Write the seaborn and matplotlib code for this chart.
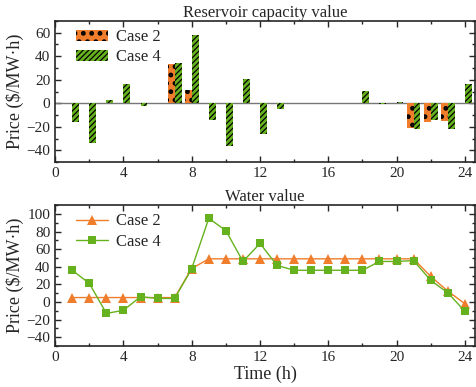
import matplotlib
matplotlib.use("Agg")
import matplotlib.pyplot as plt
import seaborn as sns
import pandas as pd
import numpy as np
from matplotlib.ticker import MultipleLocator

sns.set_style("ticks")
plt.rcParams['font.family'] = ['Liberation Serif', 'DejaVu Serif']
plt.rcParams['hatch.linewidth'] = 0.9

orange = '#f07d2c'
green = '#66b21e'

hours = list(range(1, 25))
# reservoir capacity value
cap_case2 = [0, 0, 0, 0, 0, 0, 33, 11, 0, 0, 0, 0,
             0, 0, 0, 0, 0, 0, 0, 0, -21, -16, -15, 0]
cap_case4 = [-16, -34, 3, 16, -2, 0, 34, 58, -14, -36, 21, -26,
             -5, 0, 0, 0, 0, 10.5, -1, 1.4, -22, -14, -21.5, 16]
# water value
water_case2 = [5, 5, 5, 5, 5, 5, 5, 38, 49, 49, 49, 49,
               49, 49, 49, 49, 49, 49, 49, 49, 49, 29, 12.5, -2]
water_case4 = [36, 21, -13, -9.5, 6, 4, 4, 38, 95, 81, 46, 66.5,
               41.5, 36, 36, 36, 36, 36, 46, 46, 47, 24.5, 10.5, -10.5]

fig = plt.figure(figsize=(4.76, 3.87), dpi=100)
ax1 = fig.add_axes([0.116, 0.581, 0.882, 0.365])
ax2 = fig.add_axes([0.116, 0.106, 0.882, 0.364])

h = np.array(hours)
ax1.axhline(0, color='#777777', lw=1.0, zorder=1)
with plt.rc_context({'hatch.linewidth': 2.2}):
    ax1.bar(h - 0.2, cap_case2, width=0.4, color=orange, edgecolor='black',
            linewidth=0, hatch='..', label='Case 2', zorder=2)
ax1.bar(h + 0.2, cap_case4, width=0.4, color=green, edgecolor='black',
        linewidth=0, hatch='//////', label='Case 4', zorder=2)
ax1.set_ylim(-50, 70)
ax1.set_yticks([-40, -20, 0, 20, 40, 60])
ax1.set_yticklabels(['\u221240', '\u221220', '0', '20', '40', '60'])
ax1.set_title('Reservoir capacity value', fontsize=12, pad=2)

df = pd.DataFrame({'hour': hours, 'Case 2': water_case2, 'Case 4': water_case4})
sns.lineplot(data=df, x='hour', y='Case 2', ax=ax2, color=orange, marker='^',
             markersize=7, markeredgewidth=0, lw=1.0, label='Case 2')
sns.lineplot(data=df, x='hour', y='Case 4', ax=ax2, color=green, marker='s',
             markersize=6, markeredgewidth=0, lw=1.0, label='Case 4')
ax2.set_ylim(-50, 110)
ax2.set_yticks([-40, -20, 0, 20, 40, 60, 80, 100])
ax2.set_yticklabels(['\u221240', '\u221220', '0', '20', '40', '60', '80', '100'])
ax2.set_title('Water value', fontsize=12, pad=2)
ax2.set_xlabel('Time (h)', fontsize=13, labelpad=1)

for ax in (ax1, ax2):
    ax.set_xlim(0, 24.6)
    ax.set_xticks([0, 4, 8, 12, 16, 20, 24])
    ax.xaxis.set_minor_locator(MultipleLocator(2))
    ax.yaxis.set_minor_locator(MultipleLocator(10))
    ax.tick_params(which='both', direction='in', top=True, right=True,
                   labelsize=11, width=1.0)
    ax.tick_params(which='major', length=4)
    ax.tick_params(which='minor', length=2.5)
    ax.set_ylabel('Price ($/MW\u00b7h)', fontsize=13, labelpad=2)
    for s in ax.spines.values():
        s.set_linewidth(1.2)
    leg = ax.legend(loc='upper left', bbox_to_anchor=(0.03, 1.0), frameon=False,
                    fontsize=12, handlelength=1.9, handletextpad=0.5, borderpad=0.2,
                    labelspacing=0.25, borderaxespad=0.3)
ax1.set_xlabel('')

# bigger dots in the legend patch too
leg1 = ax1.get_legend()
dot_patch = leg1.legend_handles[0]
if hasattr(dot_patch, 'set_hatch_linewidth'):
    dot_patch.set_hatch_linewidth(2.2)
else:
    dot_patch._hatch_linewidth = 2.2

fig.savefig('out.png', dpi=100)
